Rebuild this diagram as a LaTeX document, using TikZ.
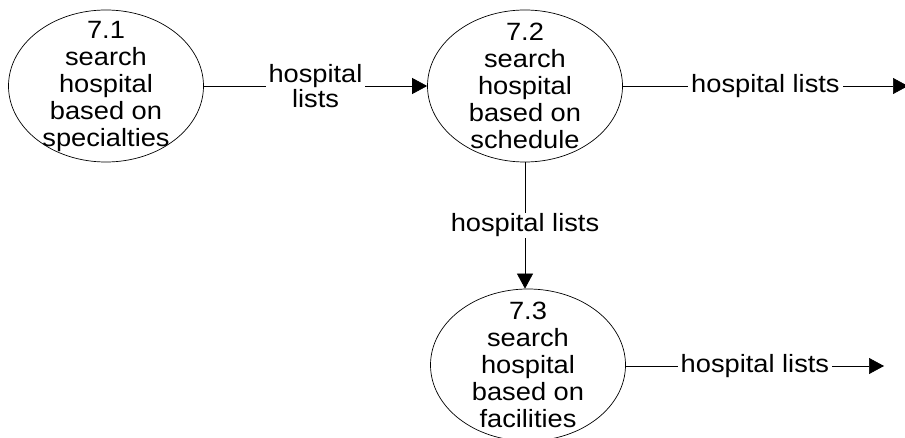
\documentclass[tikz,border=0pt]{standalone}
\usepackage{fontspec}
\setmainfont[FakeStretch=1.09]{Liberation Sans}
\usetikzlibrary{shapes.geometric,arrows.meta}
\begin{document}
\begin{tikzpicture}[x=1pt,y=-1pt,
  process/.style={draw,ellipse,line width=0.7pt,minimum width=195pt,minimum height=152pt,inner sep=0pt},
  proctext/.style={align=center,font=\fontsize{25}{27}\selectfont,inner sep=0pt},
  flow/.style={draw,line width=0.7pt,-{Triangle[length=15pt,width=16pt]}},
  flowlabel/.style={fill=white,align=center,font=\fontsize{25}{24.5}\selectfont,inner xsep=3pt,inner ysep=1pt}]
\useasboundingbox (0,0) rectangle (905,438);

% processes
\node[process] (p1) at (106,86) {};
\node[proctext] (p1t) at (p1.center) {7.1\\search\\hospital\\based on\\specialties};
\node[process] (p2) at (525,86) {};
\node[proctext] (p2t) at (p2.center) {7.2\\search\\hospital\\based on\\schedule};
\node[process] (p3) at (528,365) {};
\node[proctext] (p3t) at (p3.center) {7.3\\search\\hospital\\based on\\facilities};

% free ends of the outgoing flows
\coordinate (out2) at (908,86);
\coordinate (out3) at (884,366);

% data flows
\draw[flow] (p1.east) -- node[flowlabel] {hospital\\lists} (p2.west);
\draw[flow] (p2.east) -- node[flowlabel] {hospital lists} (out2);
\draw[flow] (p2.south) -- node[flowlabel] {hospital lists} (p2.south |- p3.north);
\draw[flow] (p3.east |- out3) -- node[flowlabel] {hospital lists} (out3);
\end{tikzpicture}
\end{document}
